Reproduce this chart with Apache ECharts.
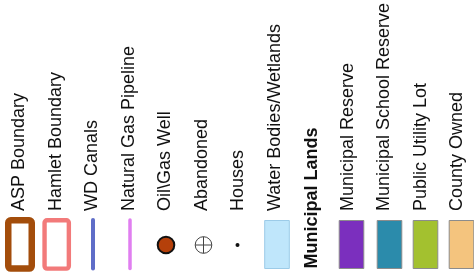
<!DOCTYPE html>
<html>
<head>
<meta charset="utf-8">
<script src="https://cdn.jsdelivr.net/npm/echarts@6/dist/echarts.min.js"></script>
<style>
html,body{margin:0;padding:0;background:#fff;}
#chart{width:474px;height:276px;}
</style>
</head>
<body>
<div id="chart"></div>
<script>
// Legend entries (columns, left to right)
const labels = ['ASP Boundary', 'Hamlet Boundary', 'WD Canals', 'Natural Gas Pipeline', 'Oil\\Gas Well', 'Abandoned', 'Houses', 'Water Bodies/Wetlands', 'Municipal Lands', 'Municipal Reserve', 'Municipal School Reserve', 'Public Utility Lot', 'County Owned'];
const symbolKinds = ['box', 'box', 'line', 'line', 'well', 'abandoned', 'dot', 'fill', 'heading', 'fill', 'fill', 'fill', 'fill'];
const symbolColors = ['#a34d0b', '#f27a7a', '#5f6dc8', '#e07ff0', '#b5400a', '#444444', '#111111', '#bfe6fb', null, '#7b2fbe', '#2b8bab', '#a3c12f', '#f4c47e'];

// drawing styles (not data)
const swatchDx = [0.5, 0.7, 0.5, 1, 0.5, 1.5, -1, 2, 0, 3.5, 5, 4.5, 4];
const FONT = '"Liberation Sans", Arial, sans-serif';

const chart = echarts.init(document.getElementById('chart'), null, {renderer: 'canvas'});

function renderItem(params, api) {
  const i = params.dataIndex;
  const p = api.coord([api.value(0), api.value(1)]);
  const tx = p[0];
  const cx = tx + swatchDx[i];
  const kind = symbolKinds[i];
  const color = symbolColors[i];
  const children = [];
  if (kind === 'heading') {
    children.push({
      type: 'text', x: tx + 1, y: 268.5, rotation: Math.PI / 2,
      style: {text: labels[i], font: 'bold 18px ' + FONT, fill: '#111', align: 'left', verticalAlign: 'middle'}
    });
  } else {
    children.push({
      type: 'text', x: tx, y: 211, rotation: Math.PI / 2,
      style: {text: labels[i], font: '18px ' + FONT, fill: '#111', align: 'left', verticalAlign: 'middle'}
    });
  }
  if (kind === 'box') {
    const lw = i === 0 ? 6.5 : 4.4;
    const w = i === 0 ? 23.5 : 24.3;
    children.push({
      type: 'rect', shape: {x: cx - w / 2, y: 220.2, width: w, height: 48.4, r: 2.5},
      style: {fill: '#fff', stroke: color, lineWidth: lw}
    });
  } else if (kind === 'line') {
    children.push({
      type: 'line', shape: {x1: cx, y1: 220, x2: cx, y2: 268.5},
      style: {stroke: color, lineWidth: i === 2 ? 4 : 3.5, lineCap: 'round'}
    });
  } else if (kind === 'well') {
    children.push({
      type: 'circle', shape: {cx: cx, cy: 245, r: 8.3},
      style: {fill: color, stroke: '#111', lineWidth: 2}
    });
  } else if (kind === 'abandoned') {
    children.push({
      type: 'circle', shape: {cx: cx, cy: 245, r: 8.3},
      style: {fill: 'none', stroke: color, lineWidth: 1}
    });
    children.push({type: 'line', shape: {x1: cx - 8.3, y1: 245, x2: cx + 8.3, y2: 245}, style: {stroke: color, lineWidth: 1}});
    children.push({type: 'line', shape: {x1: cx, y1: 236.7, x2: cx, y2: 253.3}, style: {stroke: color, lineWidth: 1}});
  } else if (kind === 'dot') {
    children.push({type: 'circle', shape: {cx: cx, cy: 245, r: 2}, style: {fill: color}});
  } else if (kind === 'fill') {
    children.push({
      type: 'rect', shape: {x: cx - 12.3, y: 220.5, width: 24.6, height: 48},
      style: {fill: color, stroke: i === 7 ? '#9ccbe8' : '#8c8c8c', lineWidth: 1}
    });
  }
  return {type: 'group', children: children};
}

chart.setOption({
  animation: false,
  backgroundColor: '#ffffff',
  grid: {left: 19.5, right: 16.5, top: 0, bottom: 0},
  xAxis: {type: 'value', min: 0, max: 12, show: false},
  yAxis: {type: 'value', min: 0, max: 1, show: false},
  series: [{
    type: 'custom',
    renderItem: renderItem,
    clip: false,
    data: labels.map((l, i) => [i, 0])
  }]
});
</script>
</body>
</html>
